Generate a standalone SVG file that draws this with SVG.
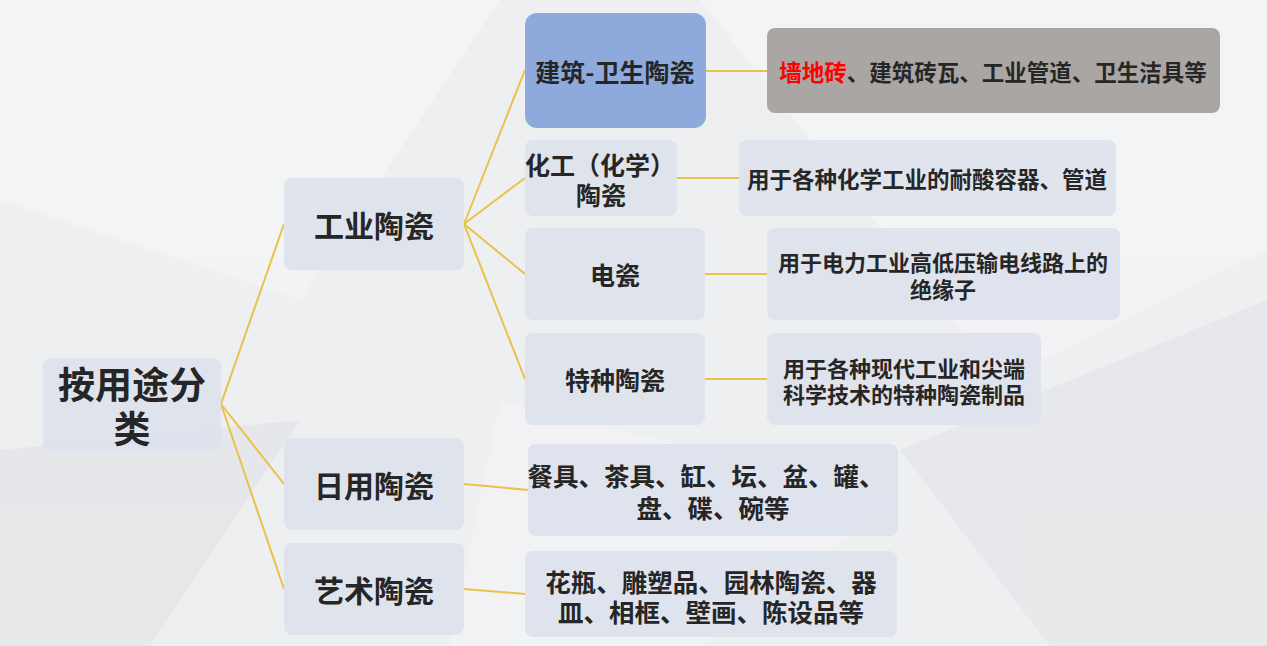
<svg xmlns="http://www.w3.org/2000/svg" width="1267" height="646" viewBox="0 0 1267 646">
<style>
.b{fill:#dde2ec;opacity:0.92}
.t{font-family:"Noto Sans CJK SC","Noto Sans",sans-serif;font-weight:bold;fill:#262626;text-anchor:middle;dominant-baseline:central}
.l{stroke:#eac14a;stroke-width:2;fill:none}
</style>
<rect width="1267" height="646" fill="#eeeff1"/>
<g opacity="0.6">
<polygon points="0,0 500,0 300,300 0,200" fill="#f6f6f7"/>
<polygon points="0,450 300,420 150,646 0,646" fill="#e2e3e6"/>
<polygon points="700,0 1267,0 1267,250 1000,380" fill="#f7f7f8"/>
<polygon points="900,450 1267,300 1267,646 1050,646" fill="#e4e5e8"/>
<polygon points="500,400 900,500 700,646 450,646" fill="#f5f5f6"/>
</g>
<g id="connectors" class="l">
<path d="M221,404 L284,224 M221,404 L284,484 M221,404 L284,589"/>
<path d="M464,224 L525,70 M464,224 L525,178 M464,224 L525,274 M464,224 L525,379"/>
<path d="M706,71 H767 M677,178 H739 M705,274 H767 M705,379 H767 M464,484 L528,490 M464,589 L525,594"/>
</g>
<g id="root"><rect class="b" x="43" y="358" width="178" height="93" rx="8"/><text class="t" x="132" y="383" font-size="37">按用途分</text><text class="t" x="132" y="427" font-size="37">类</text></g>
<g id="gongye"><rect class="b" x="284" y="178" width="180" height="92" rx="8"/><text class="t" x="374" y="224" font-size="30">工业陶瓷</text></g>
<g id="riyong"><rect class="b" x="284" y="438" width="180" height="92" rx="8"/><text class="t" x="374" y="484" font-size="30">日用陶瓷</text></g>
<g id="yishu"><rect class="b" x="284" y="543" width="180" height="92" rx="8"/><text class="t" x="374" y="589" font-size="30">艺术陶瓷</text></g>
<g id="jianzhu"><rect x="525" y="13" width="181" height="115" rx="12" fill="#8eaadc"/><text class="t" x="615" y="71" font-size="25">建筑-卫生陶瓷</text></g>
<g id="huagong"><rect class="b" x="525" y="140" width="152" height="76" rx="8"/><text class="t" x="600" y="164" font-size="25">化工（化学）</text><text class="t" x="601" y="194" font-size="25">陶瓷</text></g>
<g id="dianci"><rect class="b" x="525" y="228" width="180" height="92" rx="8"/><text class="t" x="615" y="274" font-size="25">电瓷</text></g>
<g id="tezhong"><rect class="b" x="525" y="333" width="180" height="92" rx="8"/><text class="t" x="615" y="379" font-size="25">特种陶瓷</text></g>
<g id="d1"><rect x="767" y="28" width="453" height="85" rx="8" fill="#aaa6a4"/><text class="t" x="993" y="71" font-size="22.5"><tspan fill="#ff0000">墙地砖</tspan>、建筑砖瓦、工业管道、卫生洁具等</text></g>
<g id="d2"><rect class="b" x="739" y="140" width="377" height="76" rx="8"/><text class="t" x="927" y="178" font-size="22.5">用于各种化学工业的耐酸容器、管道</text></g>
<g id="d3"><rect class="b" x="767" y="228" width="353" height="92" rx="8"/><text class="t" x="943" y="261" font-size="22">用于电力工业高低压输电线路上的</text><text class="t" x="943" y="288" font-size="22">绝缘子</text></g>
<g id="d4"><rect class="b" x="767" y="333" width="274" height="92" rx="8"/><text class="t" x="904" y="367" font-size="22">用于各种现代工业和尖端</text><text class="t" x="904" y="393" font-size="22">科学技术的特种陶瓷制品</text></g>
<g id="d5"><rect class="b" x="528" y="444" width="370" height="92" rx="8"/><text class="t" x="706" y="474" font-size="25.5">餐具、茶具、缸、坛、盆、罐、</text><text class="t" x="713" y="506" font-size="25.5">盘、碟、碗等</text></g>
<g id="d6"><rect class="b" x="525" y="551" width="372" height="86" rx="8"/><text class="t" x="711" y="580" font-size="25.5">花瓶、雕塑品、园林陶瓷、器</text><text class="t" x="711" y="610" font-size="25.5">皿、相框、壁画、陈设品等</text></g>
</svg>
